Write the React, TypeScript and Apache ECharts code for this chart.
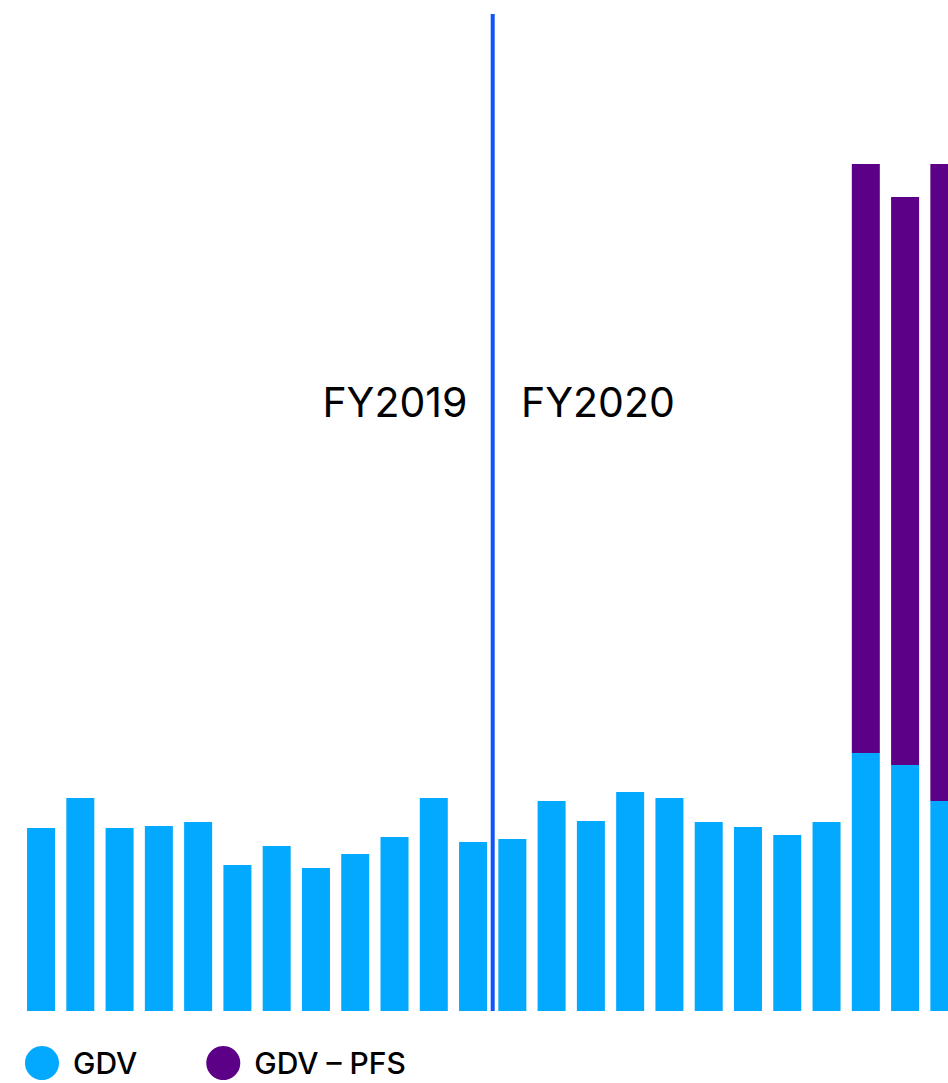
import React, { useEffect, useRef } from "react";
import * as echarts from "echarts";

const months = [
  "Jul 18", "Aug 18", "Sep 18", "Oct 18", "Nov 18", "Dec 18", "Jan 19", "Feb 19", "Mar 19", "Apr 19", "May 19", "Jun 19",
  "Jul 19", "Aug 19", "Sep 19", "Oct 19", "Nov 19", "Dec 19", "Jan 20", "Feb 20", "Mar 20", "Apr 20", "May 20", "Jun 20",
];
const gdv = [183, 213, 183, 185, 189, 146, 165, 143, 157, 174, 213, 169, 172, 210, 190, 219, 213, 189, 184, 176, 189, 258, 246, 210];
const gdvPfs = [0, 0, 0, 0, 0, 0, 0, 0, 0, 0, 0, 0, 0, 0, 0, 0, 0, 0, 0, 0, 0, 589, 568, 637];
const dividerAt = 12;
const dividerTop = 997;
const yearLabels = ["FY2019", "FY2020"];

const BLUE = "#02A9FE";
const PURPLE = "#5B0087";
const LINE = "#1253FF";

export default function App() {
  const ref = useRef<HTMLDivElement>(null);
  useEffect(() => {
    const chart = echarts.init(ref.current!, null, { renderer: "svg" });
    const font = "Inter, 'Noto Sans', sans-serif";
    chart.setOption({
      animation: false,
      grid: { left: 21.4, right: 0, top: 11, bottom: 72, containLabel: false },
      legend: {
        left: 25,
        top: 1046,
        padding: 0,
        icon: "circle",
        itemWidth: 34,
        itemHeight: 34,
        itemGap: 69,
        data: ["GDV", "GDV – PFS"],
        textStyle: { fontSize: 30, color: "#000", fontFamily: font, fontWeight: 500, padding: [0, 0, 0, 9] },
      },
      xAxis: [
        {
          type: "category",
          data: months,
          axisLine: { show: false },
          axisTick: { show: false },
          axisLabel: { show: false },
        },
        { type: "value", min: 0, max: 24, show: false },
      ],
      yAxis: { type: "value", min: 0, max: 1000, show: false, splitLine: { show: false } },
      series: [
        {
          name: "GDV",
          type: "bar",
          stack: "a",
          data: gdv,
          barWidth: 28,
          itemStyle: { color: BLUE },
        },
        {
          name: "GDV – PFS",
          type: "bar",
          stack: "a",
          data: gdvPfs,
          barWidth: 28,
          itemStyle: { color: PURPLE },
        },
        {
          name: "divider",
          type: "line",
          xAxisIndex: 1,
          data: [[dividerAt, 0], [dividerAt, dividerTop]],
          symbol: "none",
          lineStyle: { color: LINE, width: 4 },
          silent: true,
        },
      ],
      graphic: [
        {
          type: "text",
          right: 963.6 - 467,
          top: 381,
          style: { text: yearLabels[0], fontSize: 41, fontFamily: font, fill: "#000" },
        },
        {
          type: "text",
          left: 521,
          top: 381,
          style: { text: yearLabels[1], fontSize: 41, fontFamily: font, fill: "#000" },
        },
      ],
    });
    return () => chart.dispose();
  }, []);
  return (
    <div style={{ position: "absolute", left: 0, top: 0, width: 948, height: 1083, overflow: "hidden" }}>
      <div ref={ref} style={{ width: 963.6, height: 1083 }} />
    </div>
  );
}
